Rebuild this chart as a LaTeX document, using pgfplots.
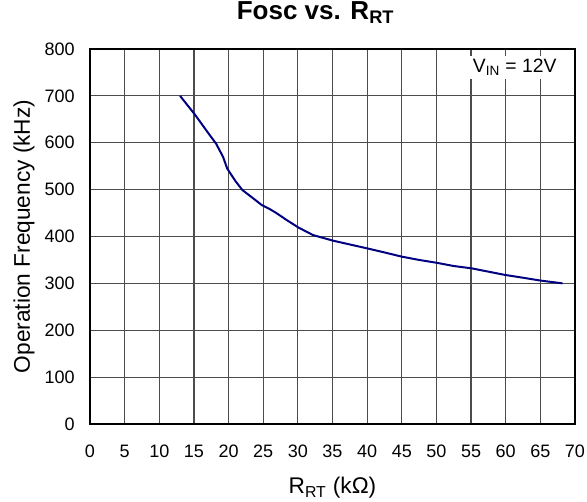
\documentclass[border=0pt]{standalone}
\usepackage{pgfplots}
\pgfplotsset{compat=1.18}
\usepackage{fontspec}
\setmainfont{Liberation Sans}
\begin{document}
\begin{tikzpicture}
\path[use as bounding box] (-67.5pt,-58.5pt) rectangle (372.75pt,318pt);
\begin{axis}[
  at={(0,0)}, anchor=south west,
  scale only axis,
  width=363.75pt, height=281.25pt,
  xmin=0, xmax=70, ymin=0, ymax=800,
  xtick={0,5,...,70}, ytick={0,100,...,800},
  grid=major,
  major grid style={black!70, line width=0.9pt},
  axis line style={black, line width=1.1pt},
  major tick length=0pt,
  /pgf/number format/assume math mode=true,
  tick label style={font=\fontsize{13.5}{16}\selectfont},
  x tick label style={yshift=-12.5pt},
  y tick label style={xshift=-8pt},
  xlabel={R\textsubscript{RT} (kΩ)},
  ylabel={Operation Frequency (kHz)},
  label style={font=\fontsize{17}{20}\selectfont},
  xlabel style={at={(axis description cs:0.5,0)}, anchor=base, yshift=-52.5pt},
  ylabel style={at={(axis description cs:-0.136,0.5)}, anchor=center},
  title={\textbf{Fosc vs. R\textsubscript{RT}}},
  title style={at={(axis description cs:0.465,1)}, anchor=base, yshift=16pt, font=\fontsize{19.5}{23}\selectfont},
]
\addplot[color={rgb,255:red,0;green,0;blue,128}, line width=1.5pt] coordinates {
(13,700) (15.2,659) (17,622) (18.2,598) (19.2,570) (19.8,545) (21,518) (22,499)
(23.5,482) (24.8,467) (26,458) (26.9,450) (28.5,434) (30.1,419) (32.2,403)
(35.1,391) (37.5,383) (39.9,375) (42.5,366) (45,357) (47.5,350) (50,344)
(52.5,337) (55.1,332) (57.5,325) (59.9,318) (62.5,312) (65,306) (68.2,300)
};
\node[fill=white, inner sep=2.5pt, font=\fontsize{14.5}{17}\selectfont] at (axis cs:61.3,761) {V\textsubscript{IN} = 12V};
\end{axis}
\end{tikzpicture}
\end{document}
